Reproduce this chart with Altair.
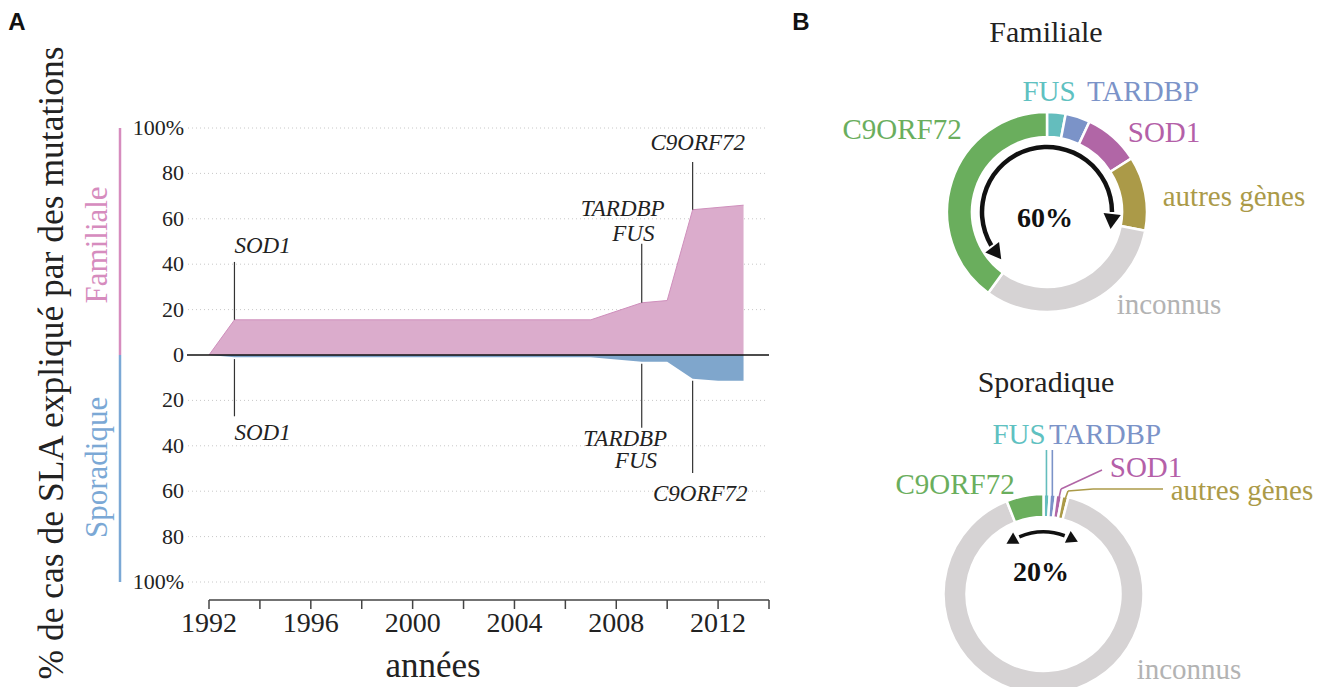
import math
import altair as alt
import pandas as pd

# ---------------- data ----------------
fam_years = [1992, 1993, 2007, 2009, 2010, 2011, 2013]
fam_pct = [0, 15.5, 15.5, 23, 24, 64, 66]
spor_years = [1992, 1993, 2007, 2009, 2010, 2011, 2012, 2013]
spor_pct = [0, 1, 1, 3, 3, 10.5, 11.3, 11.3]

y_ticks = [-100, -80, -60, -40, -20, 0, 20, 40, 60, 80, 100]
y_tick_labels = ["100%", "80", "60", "40", "20", "0", "20", "40", "60", "80", "100%"]
x_ticks = [1992, 1994, 1996, 1998, 2000, 2002, 2004, 2006, 2008, 2010, 2012, 2014]
x_tick_labels = ["1992", "", "1996", "", "2000", "", "2004", "", "2008", "", "2012", ""]

disc_years = [1993, 2009, 2011]          # discovery years (leader lines)
disc_fam_top = [41, 49, 85]              # top of familial leader
disc_spor_bottom = [-27, -32, -52]       # bottom of sporadic leader

ann_text = ["SOD1", "TARDBP", "FUS", "C9ORF72"]
ann_align = ["left", "right", "right", "center"]
ann_fam_x = [1993, 2009.9, 2009.5, 2011.2]
ann_fam_y = [48, 64.5, 53.5, 93.5]
ann_spor_x = [1993, 2010.0, 2009.6, 2011.3]
ann_spor_y = [-34.5, -36.8, -46.8, -61.2]

genes = ["FUS", "TARDBP", "SOD1", "autres gènes", "inconnus", "C9ORF72"]
fam_share = [3, 4, 9, 12, 32, 40]
spor_share = [1, 1, 1, 1, 90, 6]

gene_colors = ["#64bdbd", "#7b93c8", "#b166a6", "#ab9a48", "#d6d3d4", "#6aae5d"]
label_colors = ["#5fc1c1", "#7b93c8", "#b460a8", "#ab9a48", "#b3b3b3", "#6aae5d"]

# ---------------- layout ----------------
VX, VY = 8, 8
W, H = 1314, 679
SERIF = "Liberation Serif"
PINK_FILL, PINK_LINE, PINK_TXT = "#dbaccc", "#cf8fbc", "#d68cbe"
BLUE_FILL, BLUE_TXT = "#7fa6cc", "#7ba8d5"
AXIS_C = "#444"


def px(v):
    return v - VX


def py(v):
    return v - VY


x_scale = alt.Scale(domain=[1992, 2014], range=[px(209), px(769)], nice=False, zero=False)
y_scale = alt.Scale(domain=[-100, 100], range=[py(582), py(128)], nice=False, zero=False)
X_AXIS_Y = 600

one = alt.Data(values=[{"k": 1}])

# ---------- panel A ----------
grid = alt.Chart(pd.DataFrame({"v": [t for t in y_ticks if t != 0]})).mark_rule(
    color="#c8c8c8", strokeDash=[1, 3], strokeWidth=1
).encode(
    y=alt.Y("v:Q", scale=y_scale, axis=None),
    x=alt.value(px(188)), x2=alt.value(px(766)),
)

# y tick labels (through the y scale)
ylab_df = pd.DataFrame({"v": y_ticks, "t": y_tick_labels})
ylabels = alt.Chart(ylab_df).mark_text(
    font=SERIF, fontSize=22, color="#222", align="right", baseline="middle"
).encode(
    y=alt.Y("v:Q", scale=y_scale, axis=None), x=alt.value(px(184)), text="t:N",
)

# x axis: domain, ticks and labels (through the x scale)
xdom = alt.Chart(pd.DataFrame({"a": [x_ticks[0]], "b": [x_ticks[-1]]})).mark_rule(
    color=AXIS_C, strokeWidth=1.5
).encode(
    x=alt.X("a:Q", scale=x_scale, axis=None), x2="b:Q",
    y=alt.value(py(X_AXIS_Y)),
)
xtick_df = pd.DataFrame({"year": x_ticks, "t": x_tick_labels})
xticks = alt.Chart(xtick_df).mark_rule(color=AXIS_C, strokeWidth=1.5).encode(
    x=alt.X("year:Q", scale=x_scale, axis=None),
    y=alt.value(py(X_AXIS_Y)), y2=alt.value(py(X_AXIS_Y + 9)),
)
xlabels = alt.Chart(xtick_df).mark_text(
    font=SERIF, fontSize=28, color="#222", baseline="top"
).encode(
    x=alt.X("year:Q", scale=x_scale, axis=None),
    y=alt.value(py(X_AXIS_Y + 10)), text="t:N",
)

fam_df = pd.DataFrame({"year": fam_years, "pct": fam_pct})
spor_df = pd.DataFrame({"year": spor_years, "pct": spor_pct})

fam_area = alt.Chart(fam_df).mark_area(
    color=PINK_FILL, opacity=1, line={"color": PINK_LINE, "strokeWidth": 1}
).encode(
    x=alt.X("year:Q", scale=x_scale, axis=None),
    y=alt.Y("pct:Q", scale=y_scale, axis=None),
)
spor_area = alt.Chart(spor_df).transform_calculate(neg="-datum.pct").mark_area(
    color=BLUE_FILL, opacity=1
).encode(
    x=alt.X("year:Q", scale=x_scale, axis=None),
    y=alt.Y("neg:Q", scale=y_scale, axis=None),
)

zero_line = alt.Chart(pd.DataFrame({"v": [0]})).mark_rule(color="#111", strokeWidth=1.3).encode(
    y=alt.Y("v:Q", scale=y_scale, axis=None), x=alt.value(px(187)), x2=alt.value(px(769)),
)

side_df = pd.DataFrame({"y0": [0, 0], "y1": [100, -100], "c": [PINK_TXT, BLUE_TXT],
                        "t": ["Familiale", "Sporadique"], "ym": [48.5, -49.5]})
side_lines = alt.Chart(side_df).mark_rule(strokeWidth=2.5).encode(
    x=alt.value(px(120)),
    y=alt.Y("y0:Q", scale=y_scale, axis=None), y2="y1:Q",
    color=alt.Color("c:N", scale=None),
)
side_text = alt.Chart(side_df).mark_text(font=SERIF, fontSize=31, angle=270).encode(
    x=alt.value(px(98)),
    y=alt.Y("ym:Q", scale=y_scale, axis=None),
    text="t:N", color=alt.Color("c:N", scale=None),
)

ytitle = alt.Chart(one).mark_text(font=SERIF, fontSize=35.5, angle=270, color="#222").encode(
    x=alt.value(px(52)), y=alt.value(py(363)),
    text=alt.value("% de cas de SLA expliqué par des mutations"),
)
xtitle = alt.Chart(one).mark_text(font=SERIF, fontSize=35, color="#222").encode(
    x=alt.value(px(433)), y=alt.value(py(666)), text=alt.value("années"),
)

# leader lines in data space
fam_lookup = dict(zip(fam_years, fam_pct))
spor_lookup = dict(zip(spor_years, spor_pct))
lead_rows = []
for yr, top, bot in zip(disc_years, disc_fam_top, disc_spor_bottom):
    lead_rows.append({"year": yr, "a": fam_lookup[yr], "b": top})
    lead_rows.append({"year": yr, "a": -spor_lookup[yr] - 0.8, "b": bot})
leaders = alt.Chart(pd.DataFrame(lead_rows)).mark_rule(color="#333", strokeWidth=1.2).encode(
    x=alt.X("year:Q", scale=x_scale, axis=None),
    y=alt.Y("a:Q", scale=y_scale, axis=None), y2="b:Q",
)

ann_layers = []
for al in ["left", "right", "center"]:
    rows = []
    for t, a, fx, fy, sx, sy in zip(ann_text, ann_align, ann_fam_x, ann_fam_y, ann_spor_x, ann_spor_y):
        if a == al:
            rows.append({"t": t, "x": fx, "y": fy})
            rows.append({"t": t, "x": sx, "y": sy})
    ann_layers.append(
        alt.Chart(pd.DataFrame(rows)).mark_text(
            font=SERIF, fontSize=23, fontStyle="italic", align=al, color="#222"
        ).encode(
            x=alt.X("x:Q", scale=x_scale, axis=None),
            y=alt.Y("y:Q", scale=y_scale, axis=None),
            text="t:N",
        )
    )

# ---------- panel B ----------
FAM_C = (1047, 212)
SPOR_C = (1043.5, 594)
R_OUT = 100

color_scale = alt.Scale(domain=genes, range=gene_colors)


def donut(shares, center, r_in):
    df = pd.DataFrame({"gene": genes, "share": shares, "ord": list(range(len(genes)))})
    return alt.Chart(df).mark_arc(stroke="white", strokeWidth=2.5).encode(
        theta=alt.Theta("share:Q", stack=True),
        order=alt.Order("ord:Q"),
        color=alt.Color("gene:N", scale=color_scale, legend=None),
        x=alt.value(px(center[0])), y=alt.value(py(center[1])),
        radius=alt.value(R_OUT), radius2=alt.value(r_in),
    )


fam_donut = donut(fam_share, FAM_C, 75)
spor_donut = donut(spor_share, SPOR_C, 77)


def polar(center, r, deg):
    a = math.radians(deg)
    return center[0] + r * math.sin(a), center[1] - r * math.cos(a)


# sporadic leader lines from thin slices to their labels
cum = 0
mids = {}
for g, s in zip(genes, spor_share):
    mids[g] = (cum + s / 2) / 100 * 360
    cum += s
bends = {
    "FUS": [(None, 450)],
    "TARDBP": [(None, 450)],
    "SOD1": [(1061, 489), (1102, 470)],
    "autres gènes": [(1068, 491), (1093, 489), (1163, 489)],
}
seg_rows = []
for i, g in enumerate(genes[:4]):
    x0, y0 = polar(SPOR_C, R_OUT - 6, mids[g])
    pts = [(x0, y0)]
    for bx, by in bends[g]:
        pts.append((x0 if bx is None else bx, by))
    for (xa, ya), (xb, yb) in zip(pts[:-1], pts[1:]):
        seg_rows.append({"x": px(xa), "y": py(ya), "x2": px(xb), "y2": py(yb), "c": gene_colors[i]})
segs = alt.Chart(pd.DataFrame(seg_rows)).mark_rule(strokeWidth=1.6).encode(
    x=alt.X("x:Q", scale=None, axis=None), y=alt.Y("y:Q", scale=None, axis=None),
    x2="x2:Q", y2="y2:Q", color=alt.Color("c:N", scale=None),
)

fam_lab_xy = [(1049, 92), (1143, 92), (1164, 133), (1234, 197), (1169, 305), (902, 130)]
spor_lab_xy = [(1019, 435), (1105, 435), (1146, 468), (1242, 491), (1189, 670), (955, 485)]
lab_rows = []
for g, c, (fx, fy), (sx, sy) in zip(genes, label_colors, fam_lab_xy, spor_lab_xy):
    lab_rows.append({"t": g, "x": px(fx), "y": py(fy), "c": c, "s": 29})
    lab_rows.append({"t": g, "x": px(sx), "y": py(sy), "c": c, "s": 29})
lab_rows.append({"t": "Familiale", "x": px(1046), "y": py(33), "c": "#222", "s": 30})
lab_rows.append({"t": "Sporadique", "x": px(1046), "y": py(383), "c": "#222", "s": 30})
labels_b = alt.Chart(pd.DataFrame(lab_rows)).mark_text(font=SERIF).encode(
    x=alt.X("x:Q", scale=None, axis=None), y=alt.Y("y:Q", scale=None, axis=None),
    text="t:N", color=alt.Color("c:N", scale=None), size=alt.Size("s:Q", scale=None),
)

pct_rows = [{"t": "60%", "x": px(1045), "y": py(219)}, {"t": "20%", "x": px(1041), "y": py(573)}]
pct_text = alt.Chart(pd.DataFrame(pct_rows)).mark_text(
    font=SERIF, fontSize=28, fontWeight="bold", color="#111"
).encode(
    x=alt.X("x:Q", scale=None, axis=None), y=alt.Y("y:Q", scale=None, axis=None), text="t:N",
)

panel_rows = [{"t": "A", "x": px(17), "y": py(23)}, {"t": "B", "x": px(801), "y": py(23)}]
panel_text = alt.Chart(pd.DataFrame(panel_rows)).mark_text(
    font="Liberation Sans", fontSize=24, fontWeight="bold", color="#111"
).encode(
    x=alt.X("x:Q", scale=None, axis=None), y=alt.Y("y:Q", scale=None, axis=None), text="t:N",
)

# curved arrows
arrow_specs = [
    # center, radius, thickness, start deg, end deg, head size
    (FAM_C, 65, 4.5, 239, 450, 300),
    (SPOR_C, 62, 3.5, 337, 380, 170),
]
arc_layers = []
head_rows = []
for c, r, th, a0, a1, hs in arrow_specs:
    arc_layers.append(
        alt.Chart(one).mark_arc(color="#111").encode(
            x=alt.value(px(c[0])), y=alt.value(py(c[1])),
            theta=alt.value(math.radians(a0)), theta2=alt.value(math.radians(a1)),
            radius=alt.value(r + th / 2), radius2=alt.value(r - th / 2),
        )
    )
    d = math.degrees(7 / r)
    hx, hy = polar(c, r, a0 - d)
    head_rows.append({"x": px(hx), "y": py(hy), "a": (a0 - d - 90) % 360, "s": hs})
    hx, hy = polar(c, r, a1 + d)
    head_rows.append({"x": px(hx), "y": py(hy), "a": (a1 + d + 90) % 360, "s": hs})
heads = alt.Chart(pd.DataFrame(head_rows)).mark_point(
    shape="triangle", filled=True, color="#111", opacity=1
).encode(
    x=alt.X("x:Q", scale=None, axis=None), y=alt.Y("y:Q", scale=None, axis=None),
    angle=alt.Angle("a:Q", scale=None), size=alt.Size("s:Q", scale=None),
)

chart = alt.layer(
    grid, fam_area, spor_area, zero_line, ylabels, xdom, xticks, xlabels,
    side_lines, side_text, ytitle, xtitle, leaders, *ann_layers,
    fam_donut, spor_donut, segs, labels_b, pct_text, panel_text, *arc_layers, heads,
).properties(
    width=W, height=H, padding=0, background="white",
    autosize=alt.AutoSizeParams(type="none"),
).configure_view(stroke=None)

chart.save("out.html", embed_options={"renderer": "svg", "actions": False})
